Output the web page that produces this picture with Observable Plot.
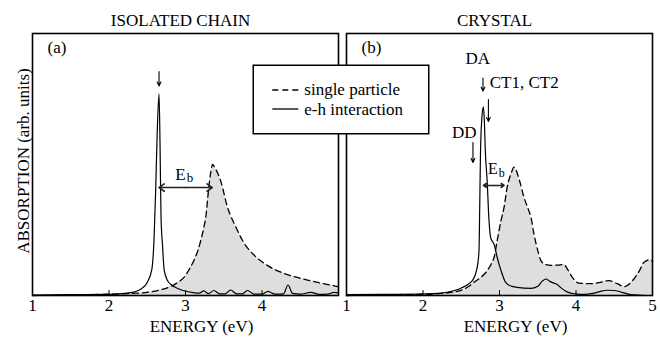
<!DOCTYPE html>
<html><head><meta charset="utf-8">
<script src="https://cdn.jsdelivr.net/npm/d3@7"></script>
<script src="https://cdn.jsdelivr.net/npm/@observablehq/plot@0.6"></script>
<style>
body{margin:0;background:#fff;}
#chart{position:relative;width:660px;height:339px;font-family:"Liberation Serif","Times New Roman",serif;}
#chart > svg{position:absolute;top:0;}
</style></head><body><div id="chart"></div>
<script>
// ---- text ----
const panelTitles = ["ISOLATED CHAIN", "CRYSTAL"];
const panelTags = ["(a)", "(b)"];
const seriesNames = ["single particle", "e-h interaction"];
const xLabel = "ENERGY (eV)";
const yLabel = "ABSORPTION (arb. units)";
const xTicksIso = [1, 2, 3, 4];
const xTicksCry = [1, 2, 3, 4, 5];

// ---- (a) isolated chain: single particle ----
const isoSpE = [1.0, 1.5, 2.0, 2.3, 2.5, 2.65, 2.77, 2.9, 2.98, 3.05, 3.11, 3.16, 3.2, 3.24, 3.27, 3.3, 3.33, 3.355, 3.39, 3.46, 3.55, 3.66, 3.77, 3.9, 4.07, 4.29, 4.51, 4.73, 5.0];
const isoSpA = [0.0, 0.002, 0.005, 0.008, 0.012, 0.02, 0.03, 0.05, 0.069, 0.1, 0.134, 0.17, 0.21, 0.26, 0.31, 0.40, 0.47, 0.50, 0.485, 0.437, 0.336, 0.26, 0.198, 0.153, 0.115, 0.084, 0.065, 0.050, 0.033];
// ---- (a) isolated chain: e-h interaction ----
const isoEhE = [1.0, 1.5, 2.0, 2.2, 2.32, 2.42, 2.5, 2.56, 2.588, 2.61, 2.63, 2.654, 2.667, 2.68, 2.70, 2.72, 2.76, 2.81, 2.9, 2.98, 3.1, 3.18, 3.24, 3.30, 3.37, 3.45, 3.52, 3.59, 3.67, 3.74, 3.81, 3.9, 4.0, 4.08, 4.17, 4.28, 4.34, 4.40, 4.5, 4.64, 4.75, 4.86, 4.94, 5.0];
const isoEhA = [0.002, 0.003, 0.004, 0.008, 0.013, 0.025, 0.05, 0.10, 0.21, 0.40, 0.62, 0.77, 0.58, 0.30, 0.19, 0.10, 0.06, 0.042, 0.027, 0.018, 0.011, 0.009, 0.018, 0.007, 0.019, 0.006, 0.006, 0.021, 0.006, 0.006, 0.019, 0.005, 0.005, 0.016, 0.005, 0.006, 0.04, 0.008, 0.005, 0.012, 0.004, 0.005, 0.012, 0.01];

// ---- (b) crystal: single particle ----
const crySpE = [1.0, 1.5, 2.0, 2.3, 2.49, 2.6, 2.67, 2.76, 2.84, 2.9, 2.93, 2.97, 3.02, 3.06, 3.10, 3.15, 3.19, 3.26, 3.32, 3.39, 3.41, 3.45, 3.50, 3.54, 3.6, 3.67, 3.76, 3.84, 3.89, 3.95, 4.04, 4.19, 4.32, 4.43, 4.54, 4.63, 4.74, 4.83, 4.89, 4.97, 5.0];
const crySpA = [0.0, 0.002, 0.004, 0.01, 0.019, 0.035, 0.051, 0.07, 0.095, 0.125, 0.146, 0.21, 0.286, 0.337, 0.413, 0.464, 0.49, 0.44, 0.375, 0.318, 0.30, 0.235, 0.172, 0.134, 0.118, 0.115, 0.116, 0.118, 0.10, 0.07, 0.047, 0.045, 0.05, 0.057, 0.045, 0.034, 0.057, 0.095, 0.127, 0.136, 0.13];
// ---- (b) crystal: e-h interaction ----
const cryEhE = [1.0, 1.5, 2.0, 2.23, 2.4, 2.49, 2.6, 2.645, 2.69, 2.715, 2.732, 2.742, 2.752, 2.77, 2.789, 2.80, 2.815, 2.84, 2.86, 2.885, 2.91, 2.93, 2.97, 3.02, 3.08, 3.15, 3.23, 3.41, 3.5, 3.56, 3.61, 3.65, 3.7, 3.75, 3.8, 3.89, 4.0, 4.1, 4.22, 4.32, 4.41, 4.5, 4.59, 4.72, 4.85, 5.0];
const cryEhA = [0.003, 0.004, 0.006, 0.009, 0.018, 0.027, 0.045, 0.057, 0.085, 0.12, 0.17, 0.35, 0.55, 0.68, 0.72, 0.68, 0.55, 0.43, 0.30, 0.22, 0.205, 0.195, 0.145, 0.095, 0.05, 0.036, 0.031, 0.027, 0.035, 0.055, 0.063, 0.055, 0.048, 0.043, 0.03, 0.013, 0.006, 0.004, 0.008, 0.016, 0.02, 0.019, 0.013, 0.003, 0.001, 0.0];

// ---- annotations (energy, absorption) ----
const isoPeakArrows = [{x: 2.654, y1: 0.855, y2: 0.80}];
const isoEbArrow = [{x1: 2.654, x2: 3.35, y: 0.412}];
const isoEbText = [{x: 3.003, y: 0.463}];
const cryPeakArrows = [
  {x: 2.784, y1: 0.83, y2: 0.78},
  {x: 2.855, y1: 0.748, y2: 0.664},
  {x: 2.653, y1: 0.584, y2: 0.508}
];
const cryPeakNames = ["DA", "CT1, CT2", "DD"];
const cryPeakLabels = [
  {x: 2.715, y: 0.905},
  {x: 2.872, y: 0.8145},
  {x: 2.538, y: 0.6237}
];
const cryEbArrow = [{x1: 2.79, x2: 3.06, y: 0.42}];
const cryEbText = [{x: 2.976, y: 0.484}];

const zip = (E, A) => E.map((e, i) => ({e, a: A[i]}));
const tickShape = {draw(ctx, l) { ctx.moveTo(0, 0); ctx.lineTo(0, -l); }};

function panel(o) {
  const sp = zip(o.spE, o.spA), eh = zip(o.ehE, o.ehA);
  const marks = [
    Plot.areaY(sp, {x: "e", y: "a", fill: "#dedede", curve: "monotone-x"}),
    Plot.lineY(sp, {x: "e", y: "a", stroke: "black", strokeWidth: 1.3, strokeDasharray: "6,4", curve: "monotone-x"}),
    Plot.lineY(eh, {x: "e", y: "a", stroke: "black", strokeWidth: 1.2, curve: "monotone-x"}),
    Plot.frame({stroke: "black", strokeWidth: 1.6}),
    Plot.vector(o.ticks, {x: d => d, frameAnchor: "bottom", length: 5, anchor: "start", shape: tickShape, stroke: "black", strokeWidth: 1}),
    Plot.axisX(o.ticks, {tickSize: 0, tickPadding: 3, label: null, fill: "black"}),
    Plot.text([xLabel], {frameAnchor: "bottom", textAnchor: "middle", lineAnchor: "middle", dx: 16, dy: 30.6, fill: "black"}),
    Plot.text([o.title], {frameAnchor: "top", textAnchor: "middle", lineAnchor: "middle", dx: -5, dy: -13.4, fill: "black"}),
    Plot.text([o.tag], {frameAnchor: "top-left", textAnchor: "start", lineAnchor: "middle", dx: 15, dy: 13.6, fill: "black"}),
    Plot.arrow(o.peakArrows, {x1: "x", x2: "x", y1: "y1", y2: "y2", stroke: "black", strokeWidth: 1.1, headLength: 6, headAngle: 50}),
    Plot.arrow(o.ebArrow, {x1: d => (d.x1 + d.x2) / 2, x2: "x1", y1: "y", y2: "y", stroke: "#222", strokeWidth: 1.6, headLength: 6, headAngle: 70}),
    Plot.arrow(o.ebArrow, {x1: d => (d.x1 + d.x2) / 2, x2: "x2", y1: "y", y2: "y", stroke: "#222", strokeWidth: 1.6, headLength: 6, headAngle: 70}),
    Plot.text(o.ebText, {x: "x", y: "y", text: () => "E", textAnchor: "end", lineAnchor: "middle", fontSize: o.ebSize, fill: "black"}),
    Plot.text(o.ebText, {x: "x", y: "y", text: () => "b", textAnchor: "start", lineAnchor: "middle", dx: 1, dy: 4, fontSize: o.ebSize - 4, fill: "black"})
  ];
  if (o.extra) marks.push(...o.extra);
  return Plot.plot({
    width: o.width, height: 339,
    marginLeft: o.ml, marginRight: o.mr, marginTop: 33, marginBottom: 44,
    x: {domain: [1, 5]},
    y: {domain: [0, 1], axis: null},
    style: {fontSize: "17px", fontFamily: "'Liberation Serif', 'Times New Roman', serif", background: "transparent", overflow: "visible", color: "black"},
    marks
  });
}

const left = panel({
  spE: isoSpE, spA: isoSpA, ehE: isoEhE, ehA: isoEhA, ticks: xTicksIso,
  title: panelTitles[0], tag: panelTags[0], width: 339, ml: 32, mr: 1,
  peakArrows: isoPeakArrows, ebArrow: isoEbArrow, ebText: isoEbText, ebSize: 17,
  extra: [Plot.text([yLabel], {frameAnchor: "left", textAnchor: "middle", lineAnchor: "middle", rotate: -90, dx: -9, dy: -3.5, fill: "black"})]
});
const right = panel({
  spE: crySpE, spA: crySpA, ehE: cryEhE, ehA: cryEhA, ticks: xTicksCry,
  title: panelTitles[1], tag: panelTags[1], width: 321, ml: 7, mr: 8,
  peakArrows: cryPeakArrows, ebArrow: cryEbArrow, ebText: cryEbText, ebSize: 16,
  extra: [
    Plot.text(cryPeakLabels, {x: "x", y: "y", text: (d, i) => cryPeakNames[i], filter: (d, i) => i !== 1, textAnchor: "middle", lineAnchor: "middle", fill: "black"}),
    Plot.text(cryPeakLabels, {x: "x", y: "y", text: (d, i) => cryPeakNames[i], filter: (d, i) => i === 1, textAnchor: "start", lineAnchor: "middle", fill: "black"})
  ]
});
left.style.left = "0px";
right.style.left = "339px";
const chart = document.getElementById("chart");
chart.append(left, right);

// ---- legend (overlay across both panels) ----
const leg = d3.create("svg").attr("width", 178).attr("height", 71)
  .style("position", "absolute").style("left", "252px").style("top", "64px")
  .style("font-family", "'Liberation Serif', 'Times New Roman', serif").style("font-size", "17px");
leg.append("rect").attr("x", 1.25).attr("y", 1.25).attr("width", 175.5).attr("height", 68.5)
  .attr("fill", "white").attr("stroke", "black").attr("stroke-width", 1.5);
const rows = seriesNames.map((name, i) => ({name, dash: i === 0 ? "6,4" : null, ly: i === 0 ? 26 : 45, ty: i === 0 ? 31 : 51}));
const g = leg.selectAll("g").data(rows).join("g");
g.append("line").attr("x1", 20.3).attr("x2", 46.3).attr("y1", d => d.ly).attr("y2", d => d.ly)
  .attr("stroke", "black").attr("stroke-width", 1.3).attr("stroke-dasharray", d => d.dash);
g.append("text").attr("x", 52.3).attr("y", d => d.ty).text(d => d.name);
chart.append(leg.node());
</script></body></html>
